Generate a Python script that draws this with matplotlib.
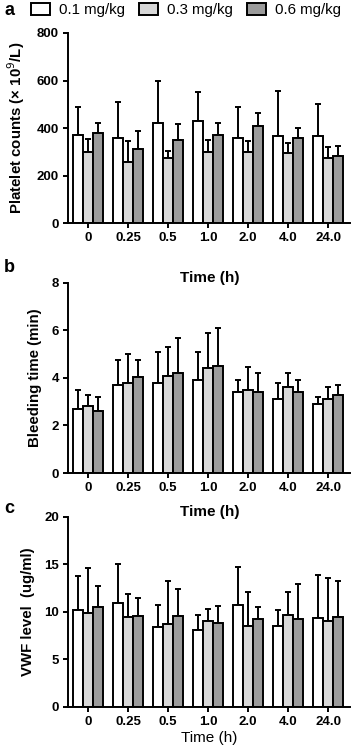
import numpy as np
import matplotlib
matplotlib.use('Agg')
import matplotlib.pyplot as plt

plt.rcParams['font.family'] = ['Liberation Sans', 'DejaVu Sans']

times = ['0', '0.25', '0.5', '1.0', '2.0', '4.0', '24.0']
doses = ['0.1 mg/kg', '0.3 mg/kg', '0.6 mg/kg']
colors = ['white', '#d8d8d8', '#9b9b9b']

# platelet counts: means and top of error bars
plt_01 = [370, 360, 420, 428, 358, 365, 365]
plt_03 = [298, 258, 275, 297, 297, 293, 275]
plt_06 = [380, 312, 350, 370, 408, 360, 283]
plt_01_top = [490, 508, 600, 552, 490, 557, 500]
plt_03_top = [355, 345, 305, 348, 345, 338, 320]
plt_06_top = [420, 388, 415, 423, 462, 400, 325]

# bleeding time
bt_01 = [2.7, 3.7, 3.8, 3.9, 3.4, 3.1, 2.9]
bt_03 = [2.8, 3.8, 4.1, 4.4, 3.5, 3.6, 3.1]
bt_06 = [2.6, 4.05, 4.2, 4.5, 3.4, 3.4, 3.3]
bt_01_top = [3.5, 4.75, 5.1, 5.1, 3.9, 3.8, 3.2]
bt_03_top = [3.3, 5.0, 5.3, 5.9, 4.45, 4.2, 3.6]
bt_06_top = [3.2, 4.75, 5.7, 6.1, 4.2, 3.9, 3.7]

# VWF level
vwf_01 = [10.2, 10.9, 8.4, 8.1, 10.7, 8.5, 9.4]
vwf_03 = [9.9, 9.5, 8.7, 9.1, 8.5, 9.7, 9.1]
vwf_06 = [10.5, 9.6, 9.6, 8.8, 9.3, 9.3, 9.5]
vwf_01_top = [13.8, 15.0, 10.7, 9.7, 14.7, 10.2, 13.9]
vwf_03_top = [14.6, 11.9, 13.3, 10.3, 12.1, 12.1, 13.6]
vwf_06_top = [12.7, 11.5, 12.4, 10.6, 10.5, 12.9, 13.3]

panels = [
    ('a', 'Platelet counts (× 10$^{9}$/L)', [plt_01, plt_03, plt_06],
     [plt_01_top, plt_03_top, plt_06_top], 800, [0, 200, 400, 600, 800]),
    ('b', 'Bleeding time (min)', [bt_01, bt_03, bt_06],
     [bt_01_top, bt_03_top, bt_06_top], 8, [0, 2, 4, 6, 8]),
    ('c', 'VWF level  (ug/ml)', [vwf_01, vwf_03, vwf_06],
     [vwf_01_top, vwf_03_top, vwf_06_top], 20, [0, 5, 10, 15, 20]),
]

fig = plt.figure(figsize=(3.58, 7.55), dpi=100)
boxes = [(0.19, 0.7046, 0.788, 0.2517),
         (0.19, 0.3735, 0.788, 0.2517),
         (0.19, 0.0636, 0.788, 0.2517)]
letter_y = [0.997, 0.657, 0.338]
time_y = [0.632, 0.322, 0.022]

x = np.arange(len(times))
w = 0.25
handles = []
for k, (letter, ylab, means, tops, ymax, yt) in enumerate(panels):
    ax = fig.add_axes(boxes[k])
    for i in range(3):
        m = np.array(means[i])
        t = np.array(tops[i])
        pos = x + (i - 1) * w
        b = ax.bar(pos, m, w, color=colors[i], edgecolor='black', linewidth=1.4,
                   label=doses[i], zorder=2)
        ax.errorbar(pos, m, yerr=[np.zeros_like(m), t - m], fmt='none',
                    ecolor='black', elinewidth=1.4, capsize=2.5, capthick=1.4,
                    zorder=1)
        if k == 0:
            handles.append(b)
    ax.set_xlim(-0.5, 6.55)
    ax.set_ylim(0, ymax)
    ax.set_yticks(yt)
    ax.set_xticks(x)
    ax.set_xticklabels(times)
    for s in ['top', 'right']:
        ax.spines[s].set_visible(False)
    for s in ['left', 'bottom']:
        ax.spines[s].set_linewidth(1.4)
    ax.tick_params(width=1.4, length=3.5, labelsize=9.5, pad=3)
    for lab in ax.get_xticklabels() + ax.get_yticklabels():
        lab.set_fontweight('bold')
    ax.set_ylabel(ylab, fontsize=10.8, fontweight='bold', labelpad=7)
    fig.text(0.012, letter_y[k], letter, fontsize=13, fontweight='bold', va='top')
    fig.text(0.585, time_y[k], 'Time (h)', fontsize=11, ha='center', va='center',
             fontweight='normal' if k == 2 else 'bold')

fig.legend(handles=handles, labels=doses, loc='upper center', ncol=3,
           bbox_to_anchor=(0.52, 1.01), frameon=False, fontsize=10.8,
           handlelength=1.3, handleheight=0.9, handletextpad=0.6,
           columnspacing=0.9, borderaxespad=0.3)

fig.savefig('out.png', dpi=100)
